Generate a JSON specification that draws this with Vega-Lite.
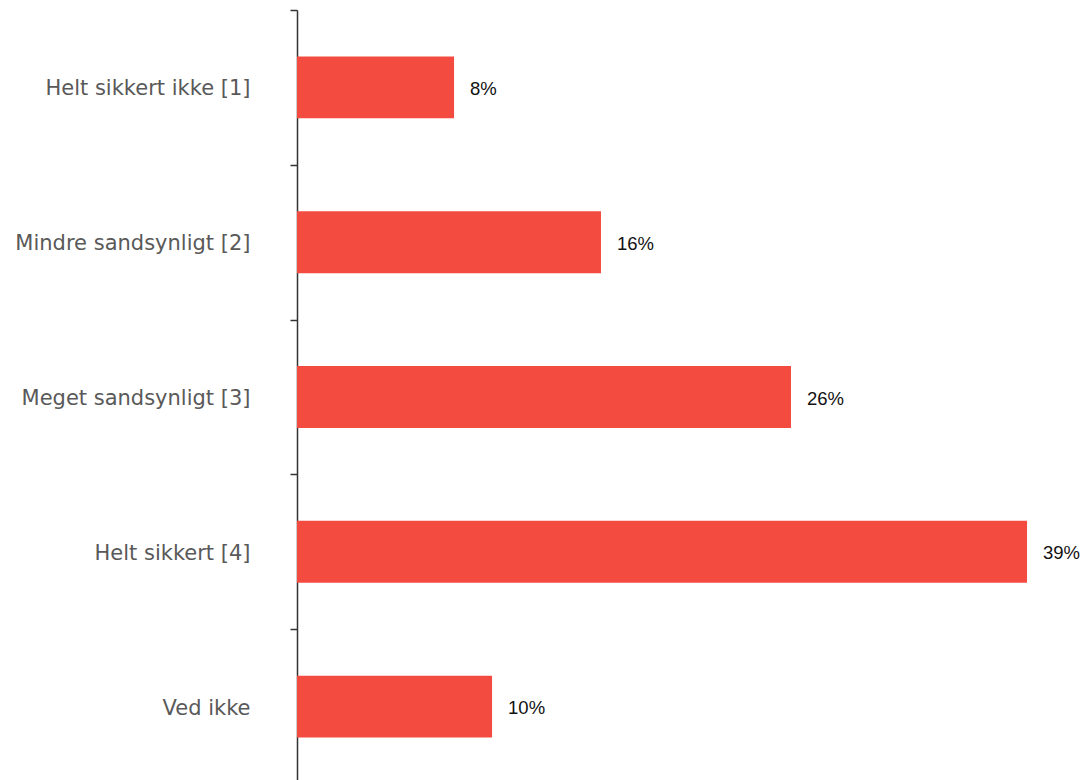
{
  "$schema": "https://vega.github.io/schema/vega-lite/v6.json",
  "autosize": "none",
  "width": 789,
  "height": 774,
  "padding": {"left": 297, "top": 10, "right": 0, "bottom": 0},
  "background": "white",
  "data": {
    "values": [
      {"cat": "Helt sikkert ikke [1]", "value": 8.39, "label": "8%"},
      {"cat": "Mindre sandsynligt [2]", "value": 16.24, "label": "16%"},
      {"cat": "Meget sandsynligt [3]", "value": 26.39, "label": "26%"},
      {"cat": "Helt sikkert [4]", "value": 39.0, "label": "39%"},
      {"cat": "Ved ikke", "value": 10.42, "label": "10%"}
    ]
  },
  "encoding": {
    "y": {
      "field": "cat",
      "type": "nominal",
      "sort": null,
      "scale": {"paddingInner": 0, "paddingOuter": 0},
      "axis": {
        "title": null,
        "domainColor": "#333333",
        "domainWidth": 1.5,
        "tickColor": "#333333",
        "tickWidth": 1.5,
        "tickSize": 7,
        "tickBand": "extent",
        "labelFont": "DejaVu Sans",
        "labelFontSize": 21,
        "labelColor": "#595959",
        "labelPadding": 40,
        "labelOffset": 1.5,
        "labelLimit": 400
      }
    },
    "x": {
      "field": "value",
      "type": "quantitative",
      "scale": {"domain": [0, 42.15], "nice": false, "zero": true},
      "axis": null
    }
  },
  "layer": [
    {"mark": {"type": "bar", "color": "#F44B40", "height": {"band": 0.4}}},
    {
      "mark": {"type": "text", "align": "left", "baseline": "middle", "dx": 16, "dy": 1.5, "font": "Liberation Sans", "fontSize": 18.5, "color": "#111111"},
      "encoding": {"text": {"field": "label"}}
    }
  ],
  "config": {"view": {"stroke": null}}
}
